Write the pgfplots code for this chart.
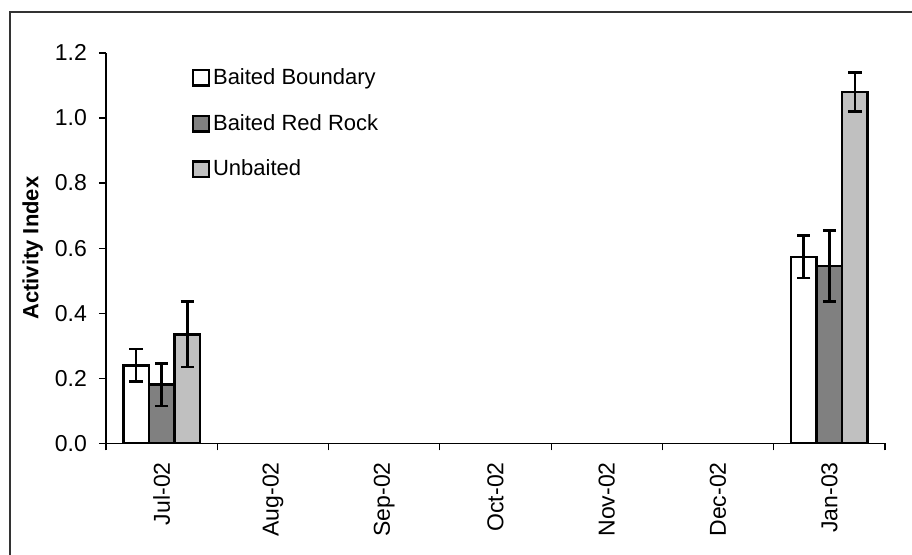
\documentclass[border=0pt]{standalone}
\usepackage{pgfplots}
\pgfplotsset{compat=1.18}
\usepackage{fontspec}
\setmainfont{Liberation Sans}
\definecolor{darkbar}{RGB}{128,128,128}
\definecolor{lightbar}{RGB}{192,192,192}
\begin{document}
\begin{tikzpicture}[x=1pt,y=1pt]
\useasboundingbox (0,0) rectangle (456,277);
\draw[line width=0.8pt, black!80] (5,-10) -- (5,271) -- (470,271);
\begin{axis}[
    at={(53pt,55.35pt)}, anchor=south west,
    scale only axis,
    width=389.5pt, height=195.2pt,
    font=\fontsize{11.5}{13}\selectfont,
    /pgf/number format/assume math mode=true,
    ybar=0pt, bar width=12.8pt,
    xmin=-0.5, xmax=6.5,
    ymin=0, ymax=1.2,
    axis x line*=bottom, axis y line*=left,
    axis line style={-, line width=0.6pt},
    xtick={0,1,2,3,4,5,6},
    xticklabels={Jul-02,Aug-02,Sep-02,Oct-02,Nov-02,Dec-02,Jan-03},
    major x tick style={draw=none},
    minor xtick={-0.5,0.5,1.5,2.5,3.5,4.5,5.5,6.5},
    minor tick length=3.5pt,
    minor x tick style={line width=0.6pt, black},
    tick align=outside,
    major tick length=3.5pt,
    ytick={0,0.2,0.4,0.6,0.8,1.0,1.2},
    y tick style={line width=0.6pt, black},
    yticklabel style={/pgf/number format/.cd, fixed, fixed zerofill, precision=1},
    xticklabel style={rotate=90, anchor=east},
    xticklabel shift=2.5pt,
    yticklabel shift=2.5pt,
    ylabel={\fontsize{11}{13}\selectfont\textbf{Activity Index}},
    every axis y label/.style={at={(axis description cs:-0.094,0.5)}, anchor=center, rotate=90},
    error bars/y dir=both, error bars/y explicit,
    error bars/error bar style={line width=1.3pt, black},
    error bars/error mark options={rotate=90, mark size=3.3pt, line width=1.3pt, black},
    legend style={at={(axis description cs:0.11,0.962)}, anchor=north west,
        draw=none, fill=none, inner sep=0pt, row sep=13.5pt,
        font=\fontsize{11}{13}\selectfont,
        nodes={inner xsep=1.5pt, inner ysep=0pt}},
    legend cell align=left,
    legend image code/.code={\draw[#1, line width=1.2pt] (0pt,-3.9pt) rectangle (7.8pt,3.9pt);},
]
\addplot[draw=black, line width=1.3pt, fill=white]
    coordinates {(0,0.24) +- (0,0.05) (6,0.573) +- (0,0.065)};
\addplot[draw=black, line width=1.3pt, fill=darkbar]
    coordinates {(0,0.18) +- (0,0.065) (6,0.545) +- (0,0.11)};
\addplot[draw=black, line width=1.3pt, fill=lightbar]
    coordinates {(0,0.335) +- (0,0.10) (6,1.08) +- (0,0.06)};
\legend{Baited Boundary, Baited Red Rock, Unbaited}
\end{axis}
\end{tikzpicture}
\end{document}
